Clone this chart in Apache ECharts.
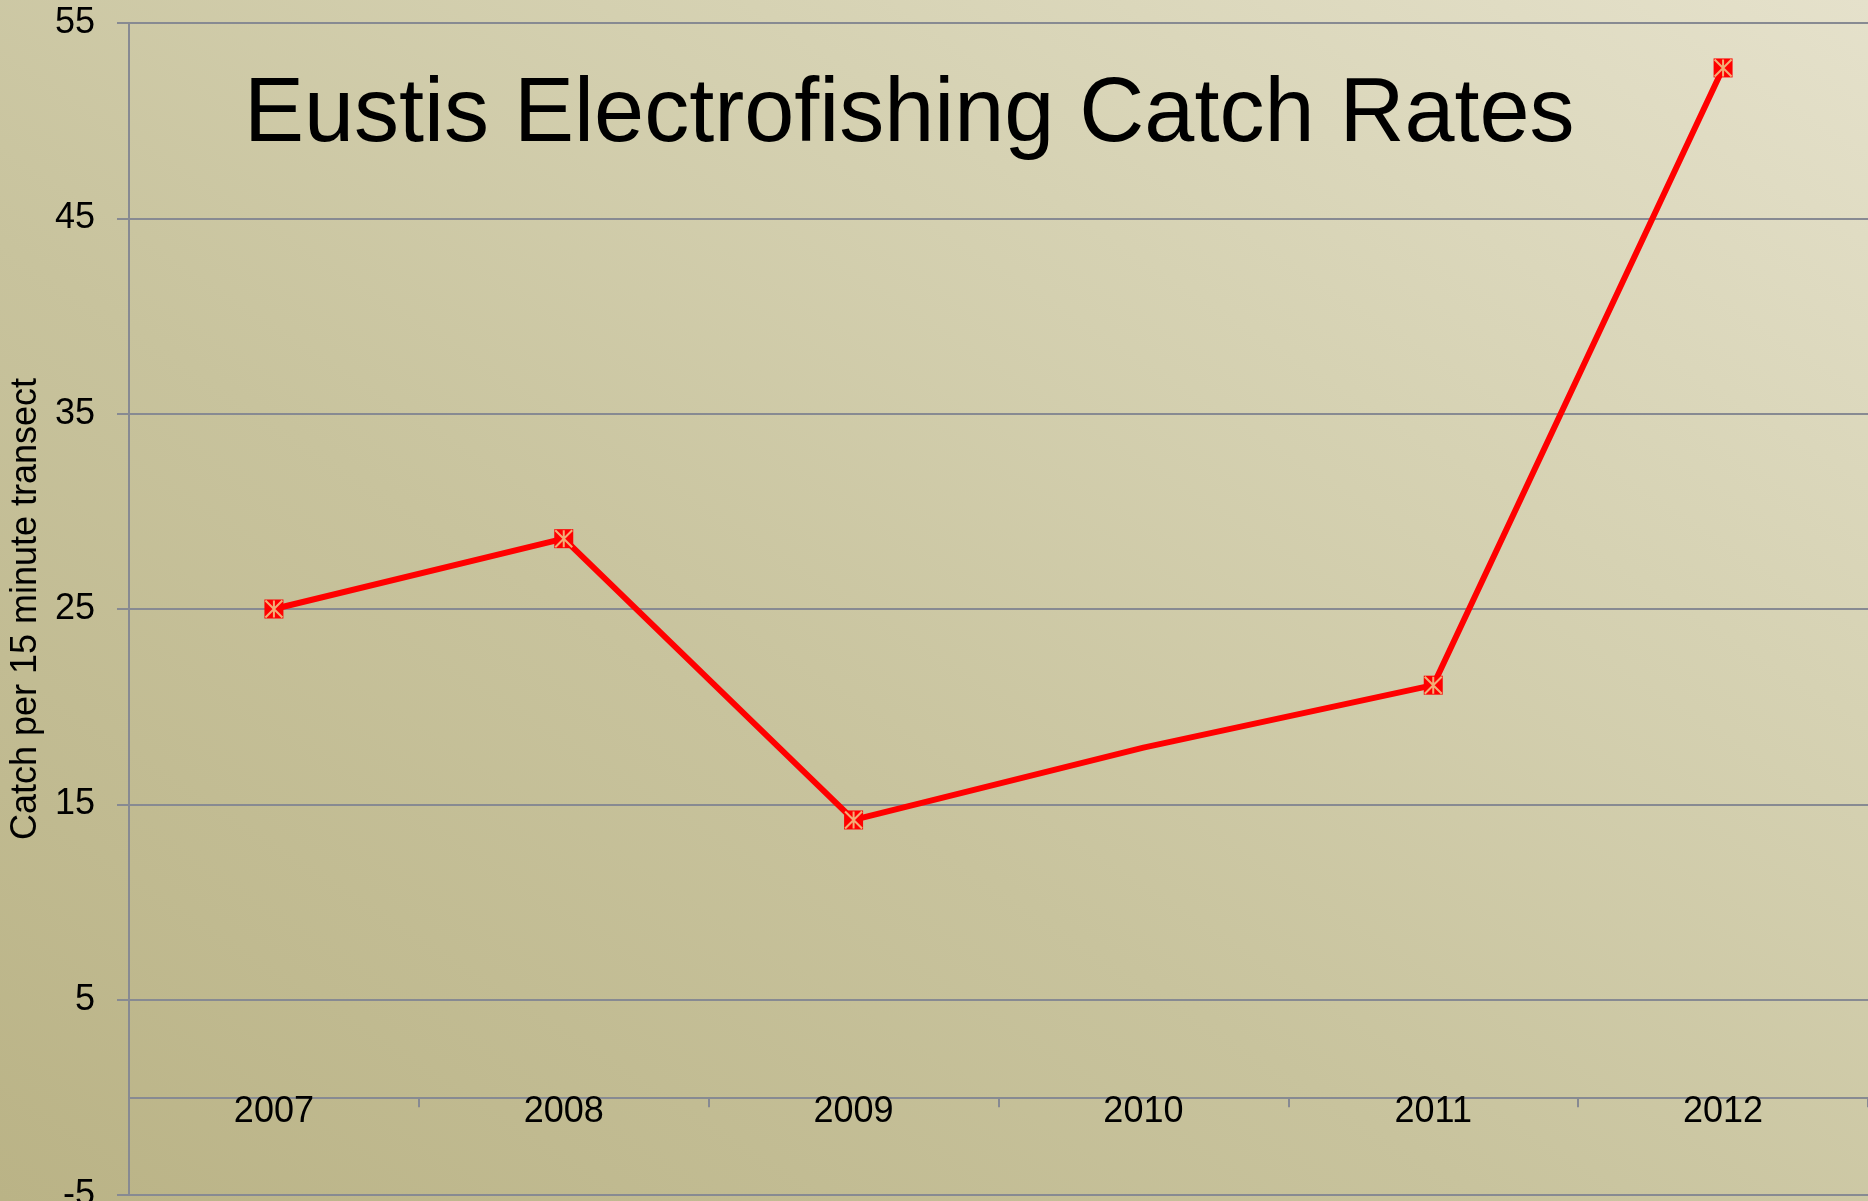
<!DOCTYPE html>
<html>
<head>
<meta charset="utf-8">
<title>Eustis Electrofishing Catch Rates</title>
<script src="https://cdn.jsdelivr.net/npm/echarts@6/dist/echarts.min.js"></script>
<style>
  html, body {
    margin: 0;
    padding: 0;
    width: 1868px;
    height: 1201px;
    overflow: hidden;
  }
  body {
    background: linear-gradient(to top right, #bab386 0%, #c8c39d 40%, #d6d2b3 70%, #e5e1cb 100%);
  }
  #chart {
    width: 1868px;
    height: 1201px;
  }
</style>
</head>
<body>
<div id="chart"></div>
<script>
// chart data
const years = ['2007', '2008', '2009', '2010', '2011', '2012'];
const catchRates = [25.0, 28.6, 14.2, 17.9, 21.1, 52.7];
const hasMarker = [true, true, true, false, true, true];

const yMin = -5;
const yMax = 55;
const yStep = 10;

const fontFamily = "'Liberation Sans', Arial, sans-serif";
const gridColor = '#878a92';

// Excel style "star" marker: X plus a vertical stroke
const starPath = 'path://M0,0L10,10M10,0L0,10M5,0L5,10';

let chart = echarts.init(document.getElementById('chart'), null, { renderer: 'canvas' });

let rectData = [];
let starData = [];
for (let i = 0; i < years.length; i++) {
  if (hasMarker[i]) {
    rectData.push(catchRates[i]);
    starData.push(catchRates[i]);
  } else {
    rectData.push({ value: catchRates[i], symbol: 'none' });
    starData.push('-');
  }
}

chart.setOption({
  animation: false,
  backgroundColor: 'transparent',
  title: {
    text: 'Eustis Electrofishing Catch Rates',
    left: 244,
    top: 71,
    padding: 0,
    textStyle: {
      fontFamily: fontFamily,
      fontSize: 90,
      fontWeight: 'normal',
      color: '#000'
    }
  },
  grid: {
    left: 129,
    right: 0,
    top: 23,
    bottom: 6,
    containLabel: false,
    outerBoundsMode: 'none'
  },
  xAxis: {
    type: 'category',
    data: years,
    boundaryGap: true,
    axisLine: {
      onZero: true,
      lineStyle: { color: gridColor, width: 2 }
    },
    axisTick: {
      show: true,
      length: 10,
      lineStyle: { color: gridColor, width: 2 }
    },
    axisLabel: {
      // labels sit at the grid edge, pull them up under the zero line
      margin: -101,
      fontFamily: fontFamily,
      fontSize: 36,
      color: '#000'
    },
    splitLine: { show: false }
  },
  yAxis: {
    type: 'value',
    min: yMin,
    max: yMax,
    interval: yStep,
    name: 'Catch per 15 minute transect',
    nameLocation: 'middle',
    nameGap: 84,
    nameRotate: 90,
    nameTextStyle: {
      fontFamily: fontFamily,
      fontSize: 36,
      color: '#000'
    },
    axisLine: {
      show: true,
      lineStyle: { color: gridColor, width: 2 }
    },
    axisTick: {
      show: true,
      length: 12,
      lineStyle: { color: gridColor, width: 2 }
    },
    axisLabel: {
      margin: 34,
      fontFamily: fontFamily,
      fontSize: 36,
      color: '#000'
    },
    splitLine: {
      show: true,
      lineStyle: { color: gridColor, width: 2 }
    }
  },
  series: [
    {
      name: 'Catch rate',
      type: 'line',
      data: rectData,
      symbol: 'rect',
      symbolSize: 19,
      showAllSymbol: true,
      lineStyle: { color: '#ff0000', width: 6 },
      itemStyle: { color: '#ff0000', borderWidth: 0 },
      z: 3
    },
    {
      name: 'Catch rate marker',
      type: 'scatter',
      data: starData,
      symbol: starPath,
      symbolSize: 17,
      itemStyle: {
        color: 'none',
        borderColor: '#efd894',
        borderWidth: 2
      },
      silent: true,
      z: 4
    }
  ]
});
</script>
</body>
</html>
